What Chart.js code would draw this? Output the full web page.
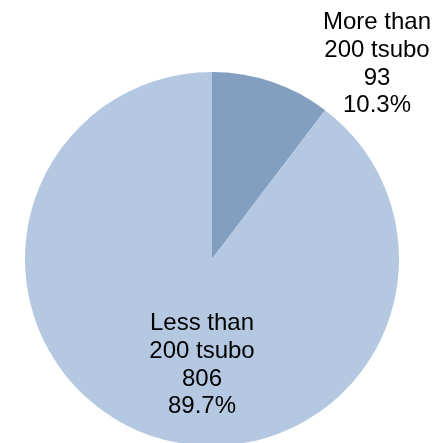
<!DOCTYPE html>
<html>
<head>
<meta charset="utf-8">
<script src="https://cdn.jsdelivr.net/npm/chart.js@4.4.1/dist/chart.umd.min.js"></script>
<style>
    html, body { margin: 0; padding: 0; background: #ffffff; overflow: hidden; }
    #wrap { width: 434px; height: 443px; overflow: hidden; }
</style>
</head>
<body>
<div id="wrap"><canvas id="pieChart" width="434" height="460"></canvas></div>
<script>
// data
const categories = [['More than', '200 tsubo'], ['Less than', '200 tsubo']];
const counts = [93, 806];
const sliceColors = ['#839FC0', '#B4C8E1'];

// label anchor (first baseline) relative to the pie centre
const labelOffsets = [{ dx: 165, dy: -230 }, { dx: -10, dy: 71 }];
const lineHeight = 27.8;

const total = counts.reduce((a, b) => a + b, 0);

const sliceLabels = {
    id: 'sliceLabels',
    afterDatasetsDraw(chart) {
        const ctx = chart.ctx;
        const arcs = chart.getDatasetMeta(0).data;
        ctx.save();
        ctx.font = '24px "Liberation Sans", Arial, sans-serif';
        ctx.fillStyle = '#000000';
        ctx.textAlign = 'center';
        ctx.textBaseline = 'alphabetic';
        arcs.forEach((arc, i) => {
            const lines = categories[i].concat([
                String(counts[i]),
                (counts[i] / total * 100).toFixed(1) + '%'
            ]);
            const x = arc.x + labelOffsets[i].dx;
            let y = arc.y + labelOffsets[i].dy;
            lines.forEach(line => {
                ctx.fillText(line, x, y);
                y += lineHeight;
            });
        });
        ctx.restore();
    }
};

const ctx = document.getElementById('pieChart').getContext('2d');
new Chart(ctx, {
    type: 'pie',
    data: {
        labels: categories.map(c => c.join(' ')),
        datasets: [{
            data: counts,
            backgroundColor: sliceColors,
            borderWidth: 0
        }]
    },
    options: {
        responsive: false,
        animation: false,
        layout: { padding: { top: 72, bottom: 14, left: 25, right: 35 } },
        plugins: {
            legend: { display: false },
            tooltip: { enabled: false }
        }
    },
    plugins: [sliceLabels]
});
</script>
</body>
</html>
